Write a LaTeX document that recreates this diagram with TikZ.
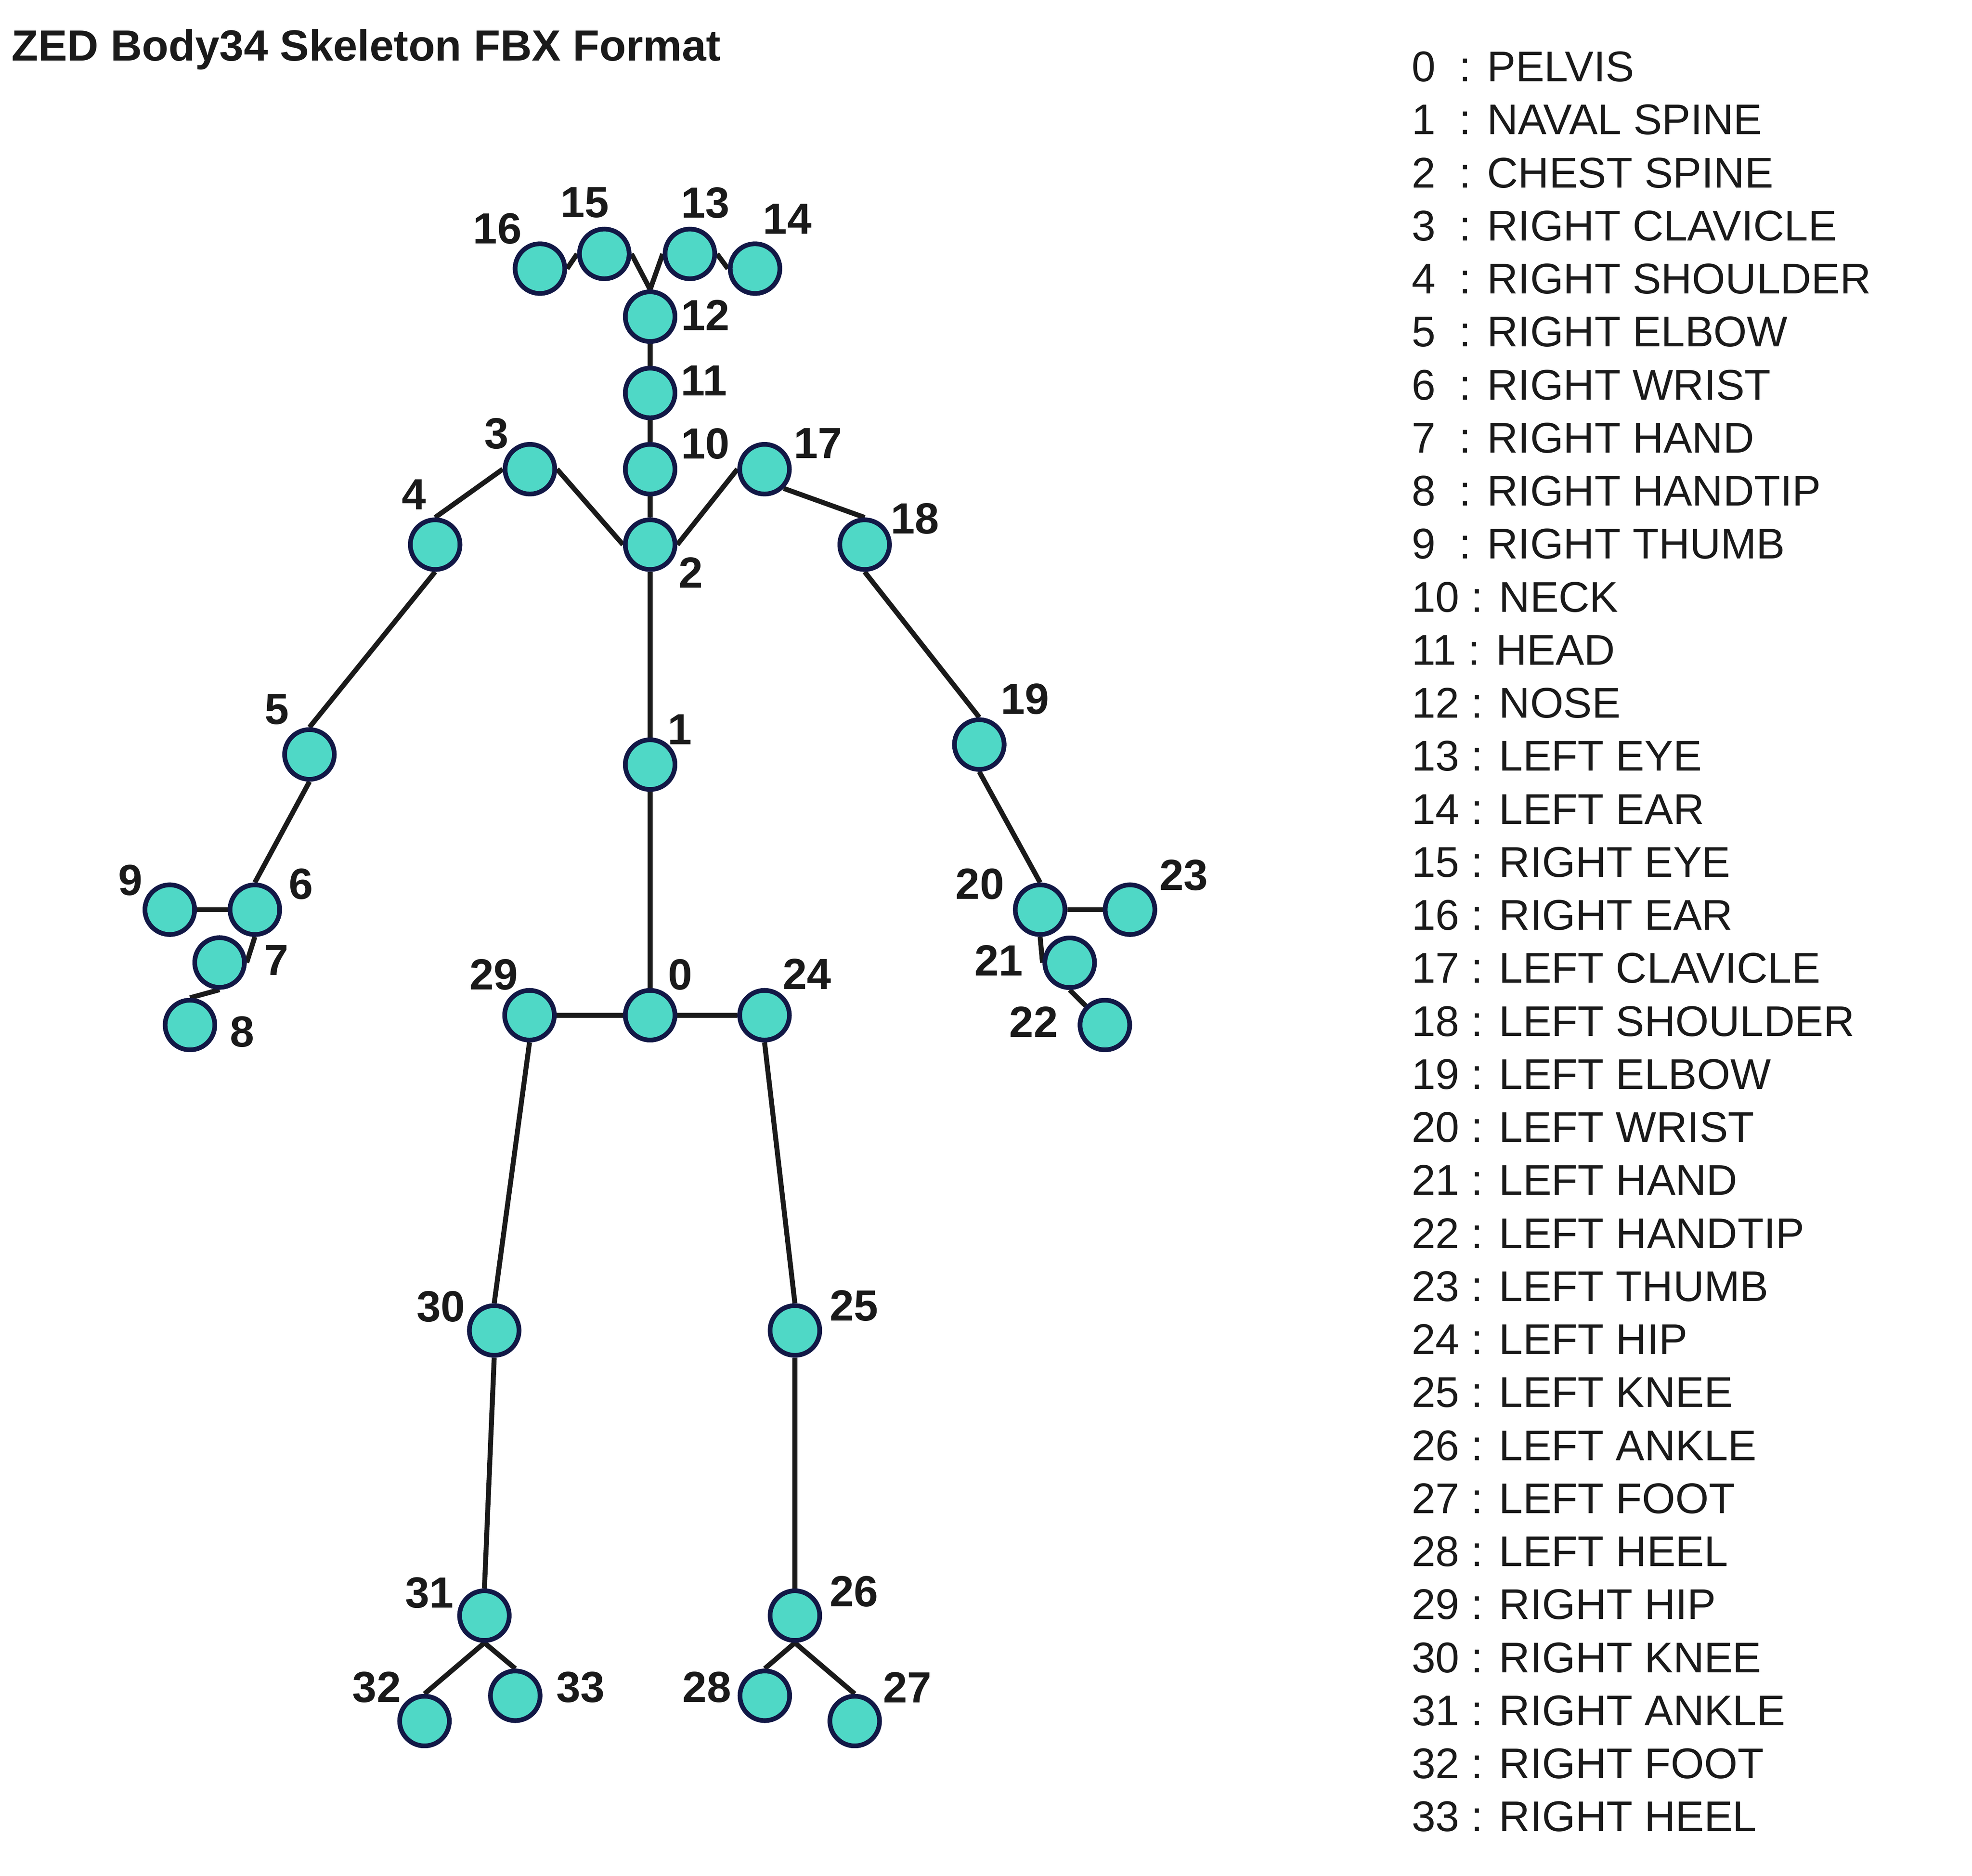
\documentclass[tikz,border=0pt]{standalone}
\usepackage{fontspec}
\setmainfont{Liberation Sans}
\usetikzlibrary{backgrounds}

\definecolor{jointfill}{RGB}{79,216,198}
\definecolor{jointline}{RGB}{18,24,70}
\definecolor{ink}{RGB}{26,26,26}

\tikzset{
  joint/.style={circle,draw=jointline,fill=jointfill,line width=3.7pt,minimum size=39.1pt,inner sep=0pt},
  num/.style={inner sep=0pt,text=ink,font=\fontsize{34.3}{41.8}\selectfont\bfseries},
  legend/.style={anchor=base west,inner sep=0pt,text=ink,font=\fontsize{33.8}{41.8}\selectfont},
  bone/.style={draw=ink,line width=3.9pt}
}

\begin{document}
\begin{tikzpicture}[x=1pt,y=-1pt]
\useasboundingbox (0,0) rectangle (1553,1477);

\node[legend,font=\fontsize{34.3}{41.8}\selectfont\bfseries] (title) at (8.9,47.9) {ZED Body34 Skeleton FBX Format};

% joints
\foreach \n/\x/\y in {0/512/799.3, 1/512/602, 2/512/428.8, 3/417.3/369.4, 4/342.7/428.8,
  5/243.7/594, 6/200.7/716.2, 7/172.9/757.8, 8/149.6/807, 9/133.7/716.2,
  10/512/369.4, 11/512/309.4, 12/512/249.3, 13/543.3/199.9, 14/594.6/211.5,
  15/475.9/199.9, 16/425.2/211.5, 17/602.1/369.4, 18/680.9/428.8, 19/771.2/586.2,
  20/819.1/716.2, 21/842.4/758, 22/870.1/807, 23/889.9/716.2, 24/602.1/799.3,
  25/626/1047.5, 26/626/1272, 27/673.1/1355, 28/602.3/1335.1, 29/417/799.3,
  30/389.2/1047.5, 31/381.5/1272, 32/334.3/1355, 33/405.8/1335.1}
  \node[joint] (j\n) at (\x,\y) {};

% numbers next to the joints
\foreach \n/\x/\y in {0/535.7/767.5, 1/535.3/574.3, 2/544.1/450.7, 3/391/341.5,
  4/326.2/389.4, 5/217.9/558.5, 6/237/696.1, 7/217.7/756, 8/190.6/812.5,
  9/102.7/692.9, 10/555.6/349.2, 11/554.4/299.8, 12/555.6/248.1, 13/555.6/159.7,
  14/620/172.5, 15/460.6/159.7, 16/391.7/180, 17/644.1/349.1, 18/720.6/408.5,
  19/807.1/550.5, 20/771.7/696, 21/786.5/756.3, 22/814/804.5, 23/932.3/689,
  24/635.6/766.8, 25/672.5/1028, 26/672.5/1253, 27/714.6/1328.4, 28/556.7/1328.4,
  29/388.9/767.5, 30/347.1/1028.7, 31/338.1/1254.2, 32/296.7/1328.4, 33/457.1/1328.4}
  \node[num] (l\n) at (\x,\y) {\n};

\begin{scope}[on background layer]
% spine and head
\path[bone] (j0.north) -- (j1.south);
\path[bone] (j1.north) -- (j2.south);
\path[bone] (j2.north) -- (j10.south);
\path[bone] (j10.north) -- (j11.south);
\path[bone] (j11.north) -- (j12.south);
\path[bone] (j12.north) -- (j13.west);
\path[bone] (j13.east) -- (j14.west);
\path[bone] (j12.north) -- (j15.east);
\path[bone] (j15.west) -- (j16.east);
% right arm
\path[bone] (j2.west) -- (j3.east);
\path[bone] (j3.west) -- (j4.north);
\path[bone] (j4.south) -- (j5.north);
\path[bone] (j5.south) -- (j6.north);
\path[bone] (j6.south) -- (j7.east);
\path[bone] (j7.south) -- (j8.north);
\path[bone] (j6.west) -- (j9.east);
% left arm
\path[bone] (j2.east) -- (j17.west);
\path[bone] (j17.south east) -- (j18.north);
\path[bone] (j18.south) -- (j19.north);
\path[bone] (j19.south) -- (j20.north);
\path[bone] (j20.south) -- (j21.west);
\path[bone] (j21.south) -- (j22.north west);
\path[bone] (j20.east) -- (j23.west);
% legs
\path[bone] (j0.east) -- (j24.west);
\path[bone] (j24.south) -- (j25.north);
\path[bone] (j25.south) -- (j26.north);
\path[bone] (j26.south) -- (j27.north);
\path[bone] (j26.south) -- (j28.north);
\path[bone] (j0.west) -- (j29.east);
\path[bone] (j29.south) -- (j30.north);
\path[bone] (j30.south) -- (j31.north);
\path[bone] (j31.south) -- (j32.north);
\path[bone] (j31.south) -- (j33.north);
\end{scope}

% legend
\foreach \n/\name in {0/PELVIS, 1/NAVAL SPINE, 2/CHEST SPINE, 3/RIGHT CLAVICLE,
  4/RIGHT SHOULDER, 5/RIGHT ELBOW, 6/RIGHT WRIST, 7/RIGHT HAND, 8/RIGHT HANDTIP,
  9/RIGHT THUMB}
  \node[legend] (leg\n) at (1111.5,64.2+41.75*\n) {\n\ \ : \name};
\foreach \n/\name in {10/NECK, 11/HEAD, 12/NOSE, 13/LEFT EYE, 14/LEFT EAR,
  15/RIGHT EYE, 16/RIGHT EAR, 17/LEFT CLAVICLE, 18/LEFT SHOULDER, 19/LEFT ELBOW,
  20/LEFT WRIST, 21/LEFT HAND, 22/LEFT HANDTIP, 23/LEFT THUMB, 24/LEFT HIP,
  25/LEFT KNEE, 26/LEFT ANKLE, 27/LEFT FOOT, 28/LEFT HEEL, 29/RIGHT HIP,
  30/RIGHT KNEE, 31/RIGHT ANKLE, 32/RIGHT FOOT, 33/RIGHT HEEL}
  \node[legend] (leg\n) at (1111.5,64.2+41.75*\n) {\n\ : \name};
\end{tikzpicture}
\end{document}
